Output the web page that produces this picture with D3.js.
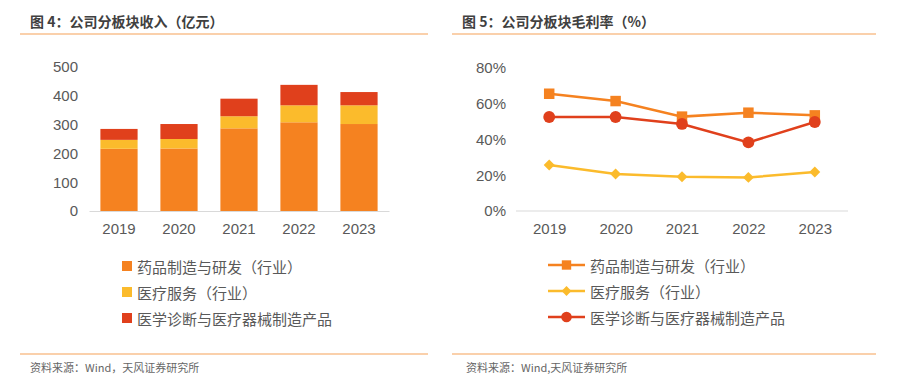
<!DOCTYPE html>
<meta charset="utf-8">
<script src="https://d3js.org/d3.v7.min.js"></script>
<style>
  body { margin: 0px; background: #fff; }
  .tick text { fill: #595959; font-size: 15px; font-family: "Liberation Sans", Arial, sans-serif; }
  .title { fill: #404040; font-size: 14px; font-weight: bold; font-family: "Noto Sans CJK SC", sans-serif; }
  .legend { fill: #595959; font-size: 15px; font-family: "Noto Sans CJK SC", sans-serif; }
  .source { fill: #666; font-size: 11px; font-family: "Noto Sans CJK SC", sans-serif; }
</style>
<div id="my_dataviz"></div>
<script>

// data
const years = ['2019', '2020', '2021', '2022', '2023'];
const seriesNames = ['药品制造与研发（行业）', '医疗服务（行业）', '医学诊断与医疗器械制造产品'];
const colors = ['#F58220', '#FBBB2C', '#E0401C'];

// revenue (亿元)
const revPharma = [216, 217, 287, 308, 302];
const revService = [31, 33, 42, 59, 65];
const revDiag = [38, 52, 61, 71, 46];
const revTicks = [0, 100, 200, 300, 400, 500];

// gross margin (%)
const gmPharma = [65.6, 61.5, 52.8, 55.0, 53.5];
const gmService = [25.7, 20.7, 19.2, 18.8, 21.8];
const gmDiag = [52.6, 52.6, 48.7, 38.4, 49.8];
const gmTicks = [0, 20, 40, 60, 80];

var svg = d3.select("#my_dataviz")
  .append("svg")
    .attr("width", 897)
    .attr("height", 389);

// titles + rules
svg.append("text").attr("class", "title").attr("x", 30).attr("y", 27).text("图 4：公司分板块收入（亿元）");
svg.append("text").attr("class", "title").attr("x", 462).attr("y", 27).text("图 5：公司分板块毛利率（%）");
[[20, 428], [452, 876]].forEach(function(r) {
  svg.append("line").attr("x1", r[0]).attr("x2", r[1]).attr("y1", 34).attr("y2", 34)
    .style("stroke", "#F9C08F").style("stroke-width", 1.5);
  svg.append("line").attr("x1", r[0]).attr("x2", r[1]).attr("y1", 354).attr("y2", 354)
    .style("stroke", "#F9C08F").style("stroke-width", 1.5);
});
svg.append("text").attr("class", "source").attr("x", 30).attr("y", 372).text("资料来源：Wind，天风证券研究所");
svg.append("text").attr("class", "source").attr("x", 466).attr("y", 372).text("资料来源：Wind,天风证券研究所");

// ---------- left: stacked bars ----------
var x1 = d3.scaleBand().domain(years).range([89, 389]).paddingInner(0.38).paddingOuter(0.19);
var y1 = d3.scaleLinear().domain([0, 500]).range([211, 67]);

var g1 = svg.append("g");
var xAxis1 = g1.append("g").attr("transform", "translate(0,211)")
  .call(d3.axisBottom(x1).tickSize(0).tickPadding(12));
xAxis1.select(".domain").style("stroke", "#D9D9D9");

var yAxis1 = g1.append("g").attr("transform", "translate(78,0)")
  .call(d3.axisLeft(y1).tickValues(revTicks).tickSize(0).tickPadding(0));
yAxis1.select(".domain").remove();

var table = years.map(function(yr, i) {
  return { year: yr, a: revPharma[i], b: revService[i], c: revDiag[i] };
});
var stack = d3.stack().keys(['a', 'b', 'c'])(table);

g1.selectAll("g.layer")
  .data(stack)
  .enter()
  .append("g")
    .attr("class", "layer")
    .style("fill", function(d, i) { return colors[i]; })
  .selectAll("rect")
  .data(function(d) { return d; })
  .enter()
  .append("rect")
    .attr("x", function(d) { return x1(d.data.year); })
    .attr("y", function(d) { return y1(d[1]); })
    .attr("width", x1.bandwidth())
    .attr("height", function(d) { return y1(d[0]) - y1(d[1]); });

// legend left
seriesNames.forEach(function(name, i) {
  var ly = 266 + i * 26;
  svg.append("rect").attr("x", 122).attr("y", ly - 5).attr("width", 10).attr("height", 10).style("fill", colors[i]);
  svg.append("text").attr("class", "legend").attr("x", 137).attr("y", ly).attr("dominant-baseline", "central").text(name);
});

// ---------- right: lines ----------
var x2 = d3.scalePoint().domain(years).range([516, 848]).padding(0.5);
var y2 = d3.scaleLinear().domain([0, 80]).range([211, 68]);

var g2 = svg.append("g");
var xAxis2 = g2.append("g").attr("transform", "translate(0,211)")
  .call(d3.axisBottom(x2).tickSize(0).tickPadding(12));
xAxis2.select(".domain").attr("d", "M516,0H848").style("stroke", "#D9D9D9");

var yAxis2 = g2.append("g").attr("transform", "translate(506,0)")
  .call(d3.axisLeft(y2).tickValues(gmTicks).tickSize(0).tickPadding(0).tickFormat(function(d) { return d + "%"; }));
yAxis2.select(".domain").remove();

var lineGen = d3.line()
  .x(function(d, i) { return x2(years[i]); })
  .y(function(d) { return y2(d); });

var lineSeries = [gmPharma, gmService, gmDiag];
// diamond = square turned 45deg
var symbols = [d3.symbolSquare, d3.symbolSquare, d3.symbolCircle];
var symSizes = [110, 60, 110];
var symRot = [0, 45, 0];

lineSeries.forEach(function(vals, k) {
  g2.append("path")
    .datum(vals)
    .attr("d", lineGen)
    .style("fill", "none")
    .style("stroke", colors[k])
    .style("stroke-width", 2.5);
});
lineSeries.forEach(function(vals, k) {
  g2.selectAll(".m" + k)
    .data(vals)
    .enter()
    .append("path")
      .attr("class", "m" + k)
      .attr("d", d3.symbol().type(symbols[k]).size(symSizes[k]))
      .attr("transform", function(d, i) { return "translate(" + x2(years[i]) + "," + y2(d) + ") rotate(" + symRot[k] + ")"; })
      .style("fill", colors[k]);
});

// legend right
seriesNames.forEach(function(name, k) {
  var ly = 265 + k * 26;
  svg.append("line").attr("x1", 548).attr("x2", 585).attr("y1", ly).attr("y2", ly)
    .style("stroke", colors[k]).style("stroke-width", 2.5);
  svg.append("path").attr("d", d3.symbol().type(symbols[k]).size(symSizes[k] * 0.8)())
    .attr("transform", "translate(566.5," + ly + ") rotate(" + symRot[k] + ")").style("fill", colors[k]);
  svg.append("text").attr("class", "legend").attr("x", 590).attr("y", ly).attr("dominant-baseline", "central").text(name);
});

</script>
